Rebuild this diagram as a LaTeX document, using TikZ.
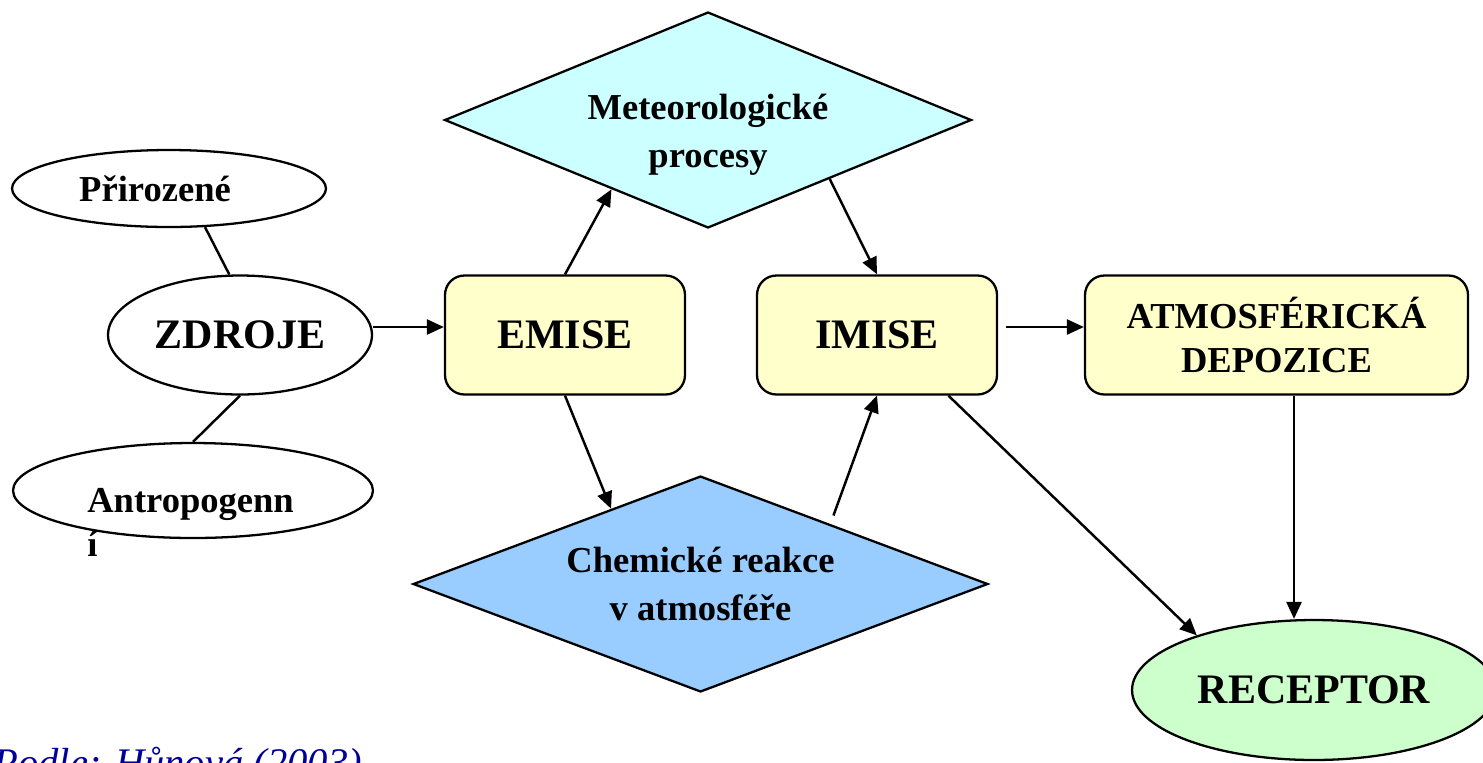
\documentclass[tikz,border=0pt]{standalone}
\usepackage{fontspec}
\setmainfont{Liberation Serif}
\usepackage{xcolor}
\usepackage{tikz}
\usetikzlibrary{shapes.geometric,calc,arrows.meta}

\definecolor{boxyellow}{HTML}{FFFFCC}
\definecolor{meteocyan}{HTML}{CCFFFF}
\definecolor{chemblue}{HTML}{99CCFF}
\definecolor{recgreen}{HTML}{CCFFCC}
\definecolor{citeblue}{HTML}{000099}

\begin{document}
\begin{tikzpicture}[
x=0.02cm,y=-0.02cm,
smallfont/.style={
  font=\bfseries\fontsize{20.8}{25}\selectfont
},
bigfont/.style={
  font=\bfseries\fontsize{23.9}{28}\selectfont
},
oval/.style={
  draw,
  ellipse,
  line width=1.3pt,
  inner sep=0pt,
  smallfont
},
procbox/.style={
  draw,
  rectangle,
  rounded corners=11pt,
  fill=boxyellow,
  line width=1.3pt,
  minimum width=4.8cm,
  minimum height=2.38cm,
  inner sep=0pt,
  align=center
},
rhomb/.style={
  draw,
  diamond,
  line width=1.3pt,
  minimum height=4.32cm,
  inner sep=0pt,
  align=center,
  font=\bfseries\fontsize{20.8}{27.3}\selectfont
},
plain/.style={
  line width=1.4pt
},
conn/.style={
  line width=1.4pt,
  -{Triangle[length=0.34cm,width=0.3cm]}
}
]
\useasboundingbox (0,0) rectangle (1483,762);
\clip (0,0) rectangle (1483,762);

\node[oval,minimum width=6.28cm,minimum height=1.54cm] at (169,188.5)
  (prir) {Přirozené\hspace*{0.56cm}};
\node[oval,bigfont,minimum width=5.28cm,minimum height=2.38cm] at (240,335)
  (zdroje) {ZDROJE};
\node[oval,minimum width=7.2cm,minimum height=1.9cm] at (193,490.5)
  (antro) {};
\node[smallfont,anchor=north west,inner sep=0pt,align=left] at (87,488)
  (antrolbl) {Antropogenn\\í};

\node[procbox,bigfont] at (565,335)
  (emise) {EMISE};
\node[procbox,bigfont] at (877,335)
  (imise) {IMISE};
\node[procbox,smallfont,minimum width=7.66cm] at (1276.5,335)
  (atm) {ATMOSFÉRICKÁ\\DEPOZICE};

\node[rhomb,fill=meteocyan,aspect=2.44,minimum width=10.54cm] at (708,120)
  (meteo) {\rule{0pt}{1.1cm}Meteorologické\\procesy};
\node[rhomb,fill=chemblue,aspect=2.66,minimum width=11.5cm] at (700.5,584)
  (chem) {Chemické reakce\\v atmosféře};

\node[oval,bigfont,fill=recgreen,minimum width=7.28cm,minimum height=2.8cm] at (1314,690)
  (receptor) {RECEPTOR};

\node[anchor=base west,inner sep=0pt,text=citeblue,font=\itshape\fontsize{23.1}{28}\selectfont] at (-7,776)
  (cite) {Podle: Hůnová (2003)};

\draw[plain] (prir.313) -- (zdroje.100);
\draw[plain] (zdroje.south) -- (antro.north);
\draw[conn] ([yshift=0.16cm]zdroje.east) -- ([yshift=0.16cm]emise.west);
\draw[conn] (emise.north) -- ($(meteo.west)!0.635!(meteo.south)$);
\draw[conn] ($(meteo.south)!0.46!(meteo.east)$) -- (imise.north);
\draw[conn] (emise.south) -- ($(chem.west)!0.69!(chem.north)$);
\draw[conn,shorten <=0.18cm] ($(chem.north)!0.45!(chem.east)$) -- (imise.south);
\draw[conn] ([xshift=0.16cm,yshift=0.16cm]imise.east) -- ([yshift=0.16cm]atm.west);
\draw[conn] ($(imise.south)!0.59!(imise.south east)$) -- (receptor.155);
\draw[conn] ([xshift=0.35cm]atm.south) -- ([xshift=0.35cm]atm.south |- receptor.north);
\end{tikzpicture}
\end{document}
